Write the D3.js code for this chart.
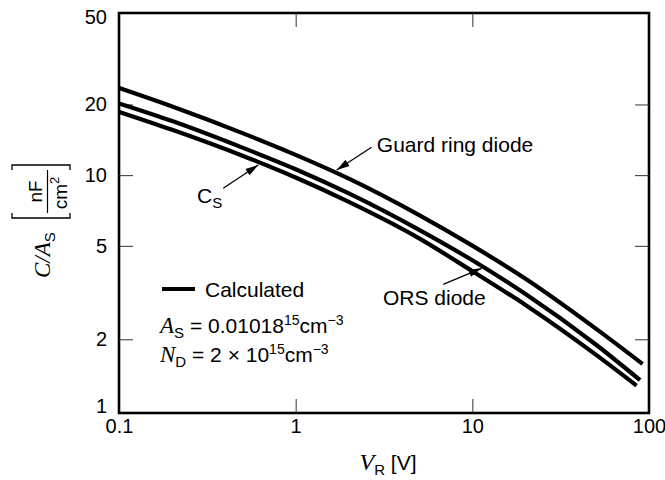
<!DOCTYPE html>
<html><head><meta charset="utf-8">
<script src="https://cdn.jsdelivr.net/npm/d3@7"></script>
<style>body{margin:0;background:#fff}svg{display:block}</style>
</head><body>
<svg id="c" width="665" height="480"></svg>
<script>
// ---- data ----
const xTicks = [0.1, 1, 10, 100];
const xTickLabels = ["0.1", "1", "10", "100"];
const yTicks = [1, 2, 5, 10, 20, 50];
const yTickLabels = ["1", "2", "5", "10", "20", "50"];

const guardV = [0.1, 0.2, 0.5, 1, 2, 5, 10, 20, 50, 92];
const guardC = [23.5, 19.6, 15.1, 12.2, 9.66, 6.76, 5.01, 3.62, 2.22, 1.57];
const orsV   = [0.1, 0.2, 0.5, 1, 2, 5, 10, 20, 50, 89];
const orsC   = [20.2, 17.0, 13.1, 10.6, 8.36, 5.85, 4.34, 3.12, 1.90, 1.34];
const csV    = [0.1, 0.2, 0.5, 1, 2, 5, 10, 20, 50, 85];
const csC    = [18.6, 15.6, 12.1, 9.77, 7.69, 5.38, 3.9, 2.80, 1.72, 1.27];

const annText = ["Guard ring diode", "C", "ORS diode"];
const annTextAt = [[2.88, 12.56], [0.2764, 7.61], [3.12, 2.80]];
const annTail = [[2.69, 13.15], [0.389, 8.80], [6.84, 3.43]];
const annTip  = [[1.707, 10.52], [0.614, 11.05], [11.28, 4.01]];

// ---- layout ----
const SANS = "'Liberation Sans', Arial, Helvetica, sans-serif";
const SERIF = "'Liberation Serif', 'Times New Roman', serif";
const FS = 21;
const L = 119, R = 649, T = 13, B = 413;
const svg = d3.select("#c");
const x = d3.scaleLog().domain([0.1, 100]).range([L, R]);
const y = d3.scaleLog().domain([1, 50]).range([410, 11]);

// frame
svg.append("rect").attr("x", L).attr("y", T).attr("width", R - L).attr("height", B - T)
  .attr("fill", "none").attr("stroke", "#000").attr("stroke-width", 2.6);

function styleAxis(g, hide) {
  g.select(".domain").remove();
  g.selectAll(".tick line").attr("stroke", "#333").attr("stroke-width", 1)
    .style("display", d => hide.includes(d) ? "none" : null);
  g.selectAll(".tick text").attr("font-family", SANS).attr("font-size", 20).attr("fill", "#000");
}
const gL = svg.append("g").attr("transform", `translate(${L},0)`)
  .call(d3.axisLeft(y).tickValues(yTicks).tickFormat((d, i) => yTickLabels[i]).tickSize(-14).tickPadding(12));
styleAxis(gL, [1, 50]);
gL.selectAll(".tick text").attr("dy", d => d === 50 ? "0.62em" : d === 1 ? "0.12em" : "0.32em");
const gR = svg.append("g").attr("transform", `translate(${R},0)`)
  .call(d3.axisRight(y).tickValues(yTicks.slice(1, -1)).tickFormat("").tickSize(-14));
styleAxis(gR, []);
const gB = svg.append("g").attr("transform", `translate(0,${B})`)
  .call(d3.axisBottom(x).tickValues(xTicks).tickFormat((d, i) => xTickLabels[i]).tickSize(-14).tickPadding(6));
styleAxis(gB, [0.1, 100]);
const gT = svg.append("g").attr("transform", `translate(0,${T})`)
  .call(d3.axisTop(x).tickValues(xTicks.slice(1, -1)).tickFormat("").tickSize(-14));
styleAxis(gT, []);

// curves
const series = [
  { name: "Guard ring diode", v: guardV, c: guardC },
  { name: "ORS diode", v: orsV, c: orsC },
  { name: "C_S", v: csV, c: csC }
];
const line = d3.line().x(d => x(d[0])).y(d => y(d[1])).curve(d3.curveMonotoneX);
svg.selectAll("path.curve").data(series).join("path").attr("class", "curve")
  .attr("d", s => line(d3.zip(s.v, s.c)))
  .attr("fill", "none").attr("stroke", "#000").attr("stroke-width", 4.2);

// arrows
svg.append("defs").append("marker").attr("id", "ah")
  .attr("viewBox", "-13 -5 14 10").attr("refX", 0).attr("refY", 0)
  .attr("markerWidth", 14).attr("markerHeight", 10).attr("markerUnits", "userSpaceOnUse")
  .attr("orient", "auto").append("path").attr("d", "M0,0L-13,-3.8L-13,3.8Z").attr("fill", "#000");
annTail.forEach((t, i) => {
  svg.append("line").attr("x1", x(t[0])).attr("y1", y(t[1]))
    .attr("x2", x(annTip[i][0])).attr("y2", y(annTip[i][1]))
    .attr("stroke", "#000").attr("stroke-width", 1.3).attr("marker-end", "url(#ah)");
});
annText.forEach((s, i) => {
  const t = svg.append("text").attr("x", x(annTextAt[i][0])).attr("y", y(annTextAt[i][1]))
    .attr("font-family", SANS).attr("font-size", FS).attr("fill", "#000");
  t.append("tspan").text(s);
  if (s === "C") t.append("tspan").attr("font-size", 15).attr("dy", 5).text("S");
});

// rich text helper
function rich(parent, px, py, parts, anchor) {
  const t = parent.append("text").attr("x", px).attr("y", py).attr("fill", "#000")
    .attr("text-anchor", anchor || "start");
  parts.forEach(p => {
    const ts = t.append("tspan").text(p.t)
      .attr("font-family", p.serif ? SERIF : SANS)
      .attr("font-size", p.fs || FS);
    if (p.serif) ts.attr("font-style", "italic");
    if (p.dy) ts.attr("dy", p.dy);
  });
  return t;
}

// legend
svg.append("line").attr("x1", 162).attr("x2", 195).attr("y1", 289).attr("y2", 289)
  .attr("stroke", "#000").attr("stroke-width", 4.2);
rich(svg, 205, 297, [{ t: "Calculated" }]);
rich(svg, 160, 333, [
  { t: "A", serif: true, fs: 23 }, { t: "S", fs: 15, dy: 5 }, { t: " = 0.01018", dy: -5 },
  { t: "15", fs: 14, dy: -8 }, { t: "cm", dy: 8 }, { t: "\u22123", fs: 14, dy: -8 }
]);
rich(svg, 160, 362, [
  { t: "N", serif: true, fs: 23 }, { t: "D", fs: 15, dy: 5 }, { t: " = 2 \u00d7 10", dy: -5 },
  { t: "15", fs: 14, dy: -8 }, { t: "cm", dy: 8 }, { t: "\u22123", fs: 14, dy: -8 }
]);

// x label
rich(svg, (L + R) / 2 + 4, 470, [
  { t: "V", serif: true, fs: 24 }, { t: "R", fs: 15, dy: 5 }, { t: " [V]", dy: -5 }
], "middle");

// y label (rotated)
const gy = svg.append("g").attr("transform", "rotate(-90)");
rich(gy, -278, 50, [{ t: "C/A", serif: true, fs: 23 }, { t: "S", fs: 15, dy: 5 }]);
rich(gy, -191.5, 42, [{ t: "nF", fs: 19 }], "middle");
rich(gy, -193, 67, [{ t: "cm", fs: 19 }, { t: "2", fs: 13, dy: -8 }], "middle");
gy.append("line").attr("x1", -213).attr("x2", -170).attr("y1", 47.5).attr("y2", 47.5)
  .attr("stroke", "#000").attr("stroke-width", 1.2);
// brackets
const br = d3.path();
br.moveTo(-213, 12); br.lineTo(-218, 12); br.lineTo(-218, 70); br.lineTo(-213, 70);
br.moveTo(-170, 12); br.lineTo(-165, 12); br.lineTo(-165, 70); br.lineTo(-170, 70);
gy.append("path").attr("d", br.toString()).attr("fill", "none").attr("stroke", "#000").attr("stroke-width", 1.3);
</script>
</body></html>
